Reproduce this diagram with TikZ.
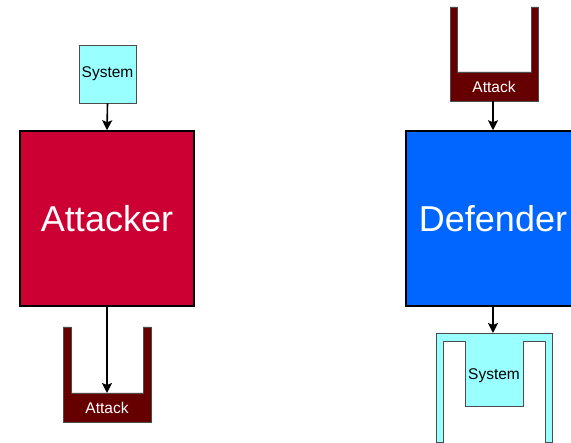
\documentclass[tikz,border=0pt]{standalone}
\usepackage{fontspec}
\setmainfont{Liberation Sans}
\usetikzlibrary{arrows.meta}
\definecolor{attackred}{HTML}{CC0033}
\definecolor{defblue}{HTML}{0066FF}
\definecolor{syscyan}{HTML}{99FFFF}
\definecolor{atkbrown}{HTML}{660000}
\tikzset{
  bigbox/.style={draw=black, line width=1.5pt, minimum width=174pt, minimum height=175pt,
    inner sep=0pt, text=white, font=\fontsize{36}{40}\selectfont},
  sysbox/.style={draw=black!70, line width=0.8pt, fill=syscyan, minimum width=57pt,
    minimum height=58pt, inner sep=0pt, font=\fontsize{15.5}{17}\selectfont},
  atkshape/.style={draw=black!70, line width=0.8pt, fill=atkbrown},
  sysshape/.style={draw=black!70, line width=0.8pt, fill=syscyan},
  lbl/.style={inner sep=0pt, font=\fontsize{15.5}{17}\selectfont},
  link/.style={draw=black, line width=1.6pt, -{Stealth[length=10pt,width=10pt,inset=2pt]}}
}
\begin{document}
\begin{tikzpicture}[x=1pt, y=-1pt]
\useasboundingbox (0,0) rectangle (571,443);

% ---- attacker side ----
\node[sysbox] (sysL) at (107.5,74) {System};
\node[bigbox, fill=attackred] (attacker) at (107,218.5) {Attacker};
\path[atkshape] (63,327) -- (71,327) -- (71,393) -- (143,393) -- (143,327)
  -- (151,327) -- (151,422) -- (63,422) -- cycle;
\node[lbl, text=white] (atkL) at (107,408) {Attack};
\coordinate (atkLfloor) at (107,393);
\draw[link] (sysL.south) -- (attacker.north);
\draw[link] (attacker.south) -- (atkLfloor);

% ---- defender side ----
\path[atkshape] (450,7) -- (457,7) -- (457,72) -- (531,72) -- (531,7)
  -- (538,7) -- (538,101) -- (450,101) -- cycle;
\node[lbl, text=white] (atkR) at (494,87) {Attack};
\coordinate (atkRbase) at (493,101);
\node[bigbox, fill=defblue] (defender) at (493,218.5) {Defender};
\path[sysshape] (436,333) -- (552,333) -- (552,442) -- (545,442) -- (545,341)
  -- (523,341) -- (523,406) -- (465,406) -- (465,341) -- (443,341)
  -- (443,442) -- (436,442) -- cycle;
\node[lbl] (sysR) at (494,376) {System};
\coordinate (sysRtop) at (493,333);
\draw[link] (atkRbase) -- (defender.north);
\draw[link] (defender.south) -- (sysRtop);
\end{tikzpicture}
\end{document}
